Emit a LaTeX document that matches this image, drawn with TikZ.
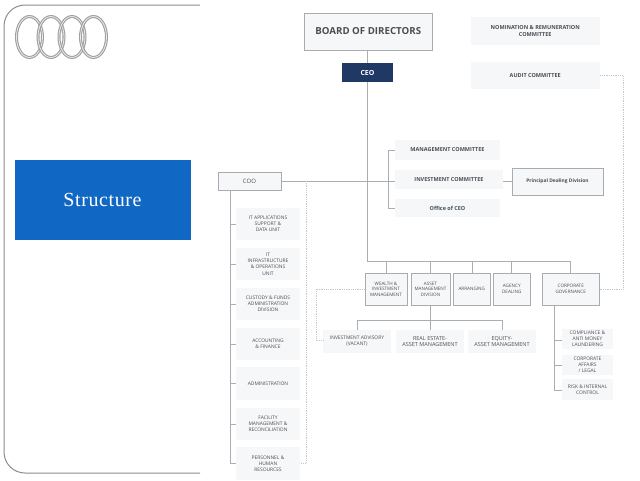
\documentclass[tikz,border=0pt]{standalone}
\usepackage{fontspec}
\setmainfont{Liberation Serif}
\newfontfamily\orgfont{Open Sans}
\newfontfamily\titlefont[LetterSpace=3]{Liberation Serif}
\definecolor{linegray}{HTML}{A9AEB3}
\definecolor{dotgray}{HTML}{C4C8CC}
\definecolor{boxfill}{HTML}{F6F7F8}
\definecolor{boxedge}{HTML}{A8ACB0}
\definecolor{txt}{HTML}{4A4E53}
\definecolor{navy}{HTML}{1F3864}
\definecolor{blue1}{HTML}{1068C4}
\tikzset{
 x=1pt,y=-1pt,
 conn/.style={draw=linegray,line width=1pt},
 dot/.style={draw=dotgray,line width=.8pt,densely dotted},
 soft/.style={fill=boxfill,draw=none,inner sep=0pt,align=center,text=txt,font=\orgfont\fontsize{4.9}{6.2}\selectfont},
 hard/.style={soft,draw=boxedge,line width=1pt},
 cmte/.style={soft,font=\orgfont\bfseries\fontsize{5.5}{6.2}\selectfont},
 lower/.style={hard,font=\orgfont\fontsize{4.6}{5.6}\selectfont},
 wide/.style={soft,font=\orgfont\fontsize{5.5}{6.4}\selectfont},
 ring/.style={draw=gray!75,line width=3pt},
 ringhi/.style={draw=gray!15,line width=.8pt},
}
\newcommand{\bx}[7]{\node[#1,minimum width=#5pt-#3pt,minimum height=#6pt-#4pt] (#2) at ({(#3+#5)/2},{(#4+#6)/2}) {#7};}
\begin{document}
\begin{tikzpicture}
\useasboundingbox (0,0) rectangle (640,480);
% frame
\coordinate (ftop) at (200,5);
\coordinate (fbot) at (200,473);
\draw[draw=gray!90,line width=1pt,rounded corners=21pt] (ftop) -- (4,5) -- (4,473) -- (fbot);
% rings
\foreach \cx in {29.5,51,72,93.5}{
 \draw[ring] (\cx,37) ellipse [x radius=13pt,y radius=20.5pt];
 \draw[ringhi] (\cx,37) ellipse [x radius=13pt,y radius=20.5pt];
}
% title
\node[fill=blue1,minimum width=176pt,minimum height=80pt,inner sep=0pt,text=white,font=\titlefont\fontsize{20}{22}\selectfont] (title) at (102.5,200) {Structure};
\bx{hard,font=\orgfont\fontsize{9.7}{11}\selectfont\bfseries}{board}{304.5}{13}{432}{50}{BOARD OF DIRECTORS}
\bx{soft,fill=navy,text=white,font=\orgfont\fontsize{7}{8}\selectfont\bfseries}{ceo}{342}{63}{393}{82}{CEO}
\bx{cmte}{nom}{470.5}{17}{600}{45}{NOMINATION \& REMUNERATION\\COMMITTEE}
\bx{cmte}{audit}{470.5}{62}{600}{89}{AUDIT COMMITTEE}
\bx{cmte}{mgmt}{395}{140}{500}{160}{MANAGEMENT COMMITTEE}
\bx{cmte}{inv}{395}{170}{503}{189}{INVESTMENT COMMITTEE}
\bx{cmte}{office}{395}{199}{500}{217}{Office of CEO}
\bx{hard,font=\orgfont\bfseries\fontsize{4.9}{6.4}\selectfont}{pdd}{512}{168}{603}{195}{Principal Dealing Division}
\bx{hard,font=\orgfont\fontsize{6}{7}\selectfont}{coo}{218}{172}{281}{190}{COO}
\bx{soft}{it1}{236}{208}{300}{240}{IT APPLICATIONS\\SUPPORT \&\\DATA UNIT}
\bx{soft}{it2}{236}{248}{300}{280}{IT\\INFRASTRUCTURE\\\& OPERATIONS\\UNIT}
\bx{soft}{cust}{236}{288}{300}{320}{CUSTODY \& FUNDS\\ADMINISTRATION\\DIVISION}
\bx{soft}{acc}{236}{328}{300}{360}{ACCOUNTING\\\& FINANCE}
\bx{soft}{adm}{236}{367}{300}{400}{ADMINISTRATION}
\bx{soft}{fac}{236}{408}{300}{440}{FACILITY\\MANAGEMENT \&\\RECONCILIATION}
\bx{soft}{per}{236}{447}{300}{480}{PERSONNEL \&\\HUMAN\\RESOURCES}
\bx{lower}{wealth}{365}{273}{407}{305}{WEALTH \&\\INVESTMENT\\MANAGEMENT}
\bx{lower}{asset}{411}{273}{450}{305}{ASSET\\MANAGEMENT\\DIVISION}
\bx{lower}{arr}{453.5}{273}{490}{305}{ARRANGING}
\bx{lower}{agency}{493.5}{273}{530}{305}{AGENCY\\DEALING}
\bx{lower}{corp}{542.5}{273}{599}{305}{CORPORATE\\GOVERNANCE}
\bx{soft}{iadv}{323}{330}{391}{353}{INVESTMENT ADVISORY\\(VACANT)}
\bx{wide}{real}{396}{330}{464}{353}{REAL ESTATE-\\ASSET MANAGEMENT}
\bx{wide}{eq}{468}{330}{536}{353}{EQUITY-\\ASSET MANAGEMENT}
\bx{soft}{comp}{562}{329}{613}{349}{COMPLIANCE \&\\ANTI MONEY\\LAUNDERING}
\bx{soft}{caff}{562}{355}{613}{375}{CORPORATE\\AFFAIRS\\/ LEGAL}
\bx{soft}{risk}{562}{379}{613}{400}{RISK \& INTERNAL\\CONTROL}
% connectors
\draw[conn] (board.south -| ceo) -- (ceo.north);
\draw[conn] (ceo.south) -- (ceo.south |- 0,261) -- (570,261);
\draw[conn] (coo.east) -- (coo.east -| inv.west);
\draw[conn] (mgmt.west) -- (388,150) -- (388,208) -- (office.west);
\draw[conn] (inv.east |- coo.east) -- (pdd.west |- coo.east);
\foreach \n/\x in {wealth/386,asset/430,arr/472,agency/511,corp/570}{
 \draw[conn] (\x,261) -- (\n.north -| \x,0);}
\draw[conn] (asset.south) -- (asset.south |- 0,320);
\draw[conn] (iadv.north) -- (iadv.north |- 0,320) -- (eq.north |- 0,320) -- (eq.north);
\draw[conn] (real.north) -- (real.north |- 0,320);
\draw[conn] (230,190) -- (230,463) -- (per.west |- 0,463);
\foreach \y/\n in {224/it1,264/it2,304/cust,344/acc,383/adm,424/fac}{\draw[conn] (230,\y) -- (\n.west |- 0,\y);}
\draw[conn] (554,305) -- (554,390) -- (risk.west |- 0,390);
\foreach \y/\n in {340/comp,365/caff}{\draw[conn] (554,\y) -- (\n.west |- 0,\y);}
\draw[dot] (306,181) -- (306,463) -- (per.east |- 0,463);
\draw[dot] (wealth.west |- 0,289) -- (316,289) -- (316,340) -- (iadv.west |- 0,340);
\draw[dot] (audit.east) -- (623,75.5) -- (623,289) -- (corp.east);
\end{tikzpicture}
\end{document}
